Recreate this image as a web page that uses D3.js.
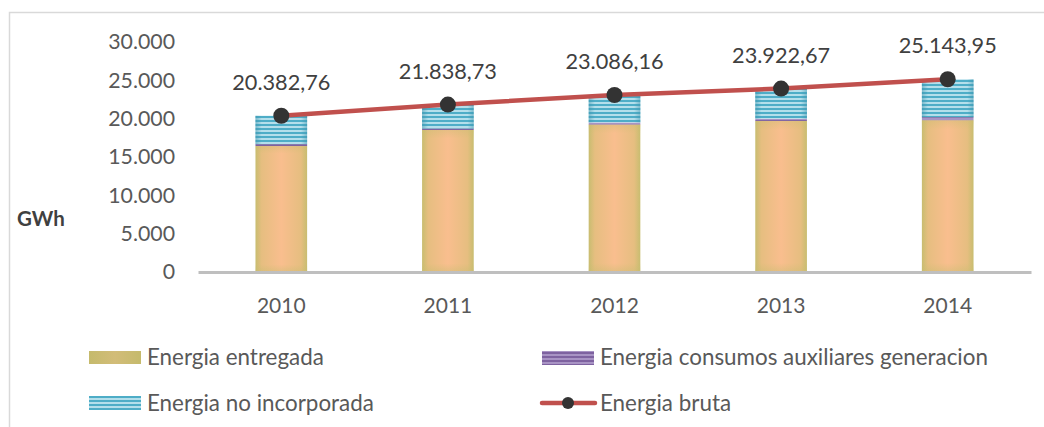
<!DOCTYPE html>
<html><head><meta charset="utf-8">
<script src="https://cdn.jsdelivr.net/npm/d3@7"></script>
<style>body{margin:0;background:#fff} svg{display:block;font-family:Lato,"Open Sans",sans-serif}</style>
</head><body>
<svg id="c" width="1044" height="427"></svg>
<script>
const years = ["2010", "2011", "2012", "2013", "2014"];
const entregada = [16430, 18520, 19240, 19700, 19800];
const auxiliares = [250, 200, 260, 300, 400];
const noIncorporada = [3700, 3120, 3590, 3920, 4940];
const bruta = [20382.76, 21838.73, 23086.16, 23922.67, 25143.95];
const tickValues = [0, 5000, 10000, 15000, 20000, 25000, 30000];
const tickLabels = ["0", "5.000", "10.000", "15.000", "20.000", "25.000", "30.000"];
const seriesNames = ["Energia entregada", "Energia consumos auxiliares generacion", "Energia no incorporada", "Energia bruta"];

const loc = d3.formatLocale({decimal: ",", thousands: ".", grouping: [3], currency: ["", ""]});
const fmt = loc.format(",.2f");

const svg = d3.select("#c");
const defs = svg.append("defs");

const g1 = defs.append("linearGradient").attr("id", "gEnt").attr("x1", 0).attr("x2", 1).attr("y1", 0).attr("y2", 0);
[[0, "#C8BD70"], [0.12, "#E6BE80"], [0.5, "#F9BE8E"], [0.88, "#E6BE80"], [1, "#C8BD70"]].forEach(s =>
  g1.append("stop").attr("offset", s[0]).attr("stop-color", s[1]));
const g1v = defs.append("linearGradient").attr("id", "gEntV").attr("x1", 0).attr("x2", 0).attr("y1", 0).attr("y2", 1);
[[0, "#C8BD70", 0.35], [0.06, "#C8BD70", 0], [0.94, "#C8BD70", 0], [1, "#C8BD70", 0.45]].forEach(s =>
  g1v.append("stop").attr("offset", s[0]).attr("stop-color", s[1]).attr("stop-opacity", s[2]));
const gl = defs.append("linearGradient").attr("id", "gEntL").attr("x1", 0).attr("x2", 1).attr("y1", 0).attr("y2", 0);
[[0, "#C5BA6C"], [0.5, "#D2BC78"], [1, "#C5BA6C"]].forEach(s =>
  gl.append("stop").attr("offset", s[0]).attr("stop-color", s[1]));

function stripes(id, dark, light) {
  const p = defs.append("pattern").attr("id", id).attr("patternUnits", "userSpaceOnUse")
    .attr("width", 8).attr("height", 4);
  p.append("rect").attr("width", 8).attr("height", 4).attr("fill", light);
  p.append("rect").attr("width", 8).attr("height", 2).attr("fill", dark);
}
stripes("pBlue", "#4EADC7", "#B4DFEB");
stripes("pPurp", "#7E62A0", "#A893C4");
const ge = defs.append("linearGradient").attr("id", "gEdge").attr("x1", 0).attr("x2", 1).attr("y1", 0).attr("y2", 0);
[[0, "#3C93AC", 0.5], [0.12, "#3C93AC", 0], [0.88, "#3C93AC", 0], [1, "#3C93AC", 0.5]].forEach(s =>
  ge.append("stop").attr("offset", s[0]).attr("stop-color", s[1]).attr("stop-opacity", s[2]));

svg.append("rect").attr("x", 9.5).attr("y", 12.5).attr("width", 1200).attr("height", 600)
  .attr("fill", "none").attr("stroke", "#D9D9D9").attr("stroke-width", 1.5);

const x = d3.scaleBand().domain(years).range([198, 1031]).padding(0);
const y = d3.scaleLinear().domain([0, 30000]).range([272, 42]);
const bw = x.bandwidth() * 0.31;

const ya = svg.append("g").attr("transform", "translate(198,0)")
  .call(d3.axisLeft(y).tickValues(tickValues).tickFormat((d, i) => tickLabels[i]).tickSize(0).tickPadding(23));
ya.select(".domain").remove();
ya.selectAll("text").attr("font-size", 21.3).attr("fill", "#595959").attr("font-family", "Lato");

svg.append("text").attr("x", 17).attr("y", 219).attr("dy", "0.35em").text("GWh")
  .attr("font-size", 20.5).attr("font-weight", "bold").attr("fill", "#404040");

const bars = svg.append("g");
years.forEach((yr, i) => {
  const x0 = x(yr) + (x.bandwidth() - bw) / 2;
  const e1 = entregada[i];
  const a1 = e1 + auxiliares[i];
  const n1 = a1 + noIncorporada[i];
  bars.append("rect").attr("x", x0).attr("width", bw).attr("y", y(e1)).attr("height", y(0) - y(e1)).attr("fill", "url(#gEnt)");
  bars.append("rect").attr("x", x0).attr("width", bw).attr("y", y(e1)).attr("height", y(0) - y(e1)).attr("fill", "url(#gEntV)");
  bars.append("rect").attr("x", x0).attr("width", bw).attr("y", y(a1)).attr("height", y(e1) - y(a1)).attr("fill", "url(#pPurp)");
  bars.append("rect").attr("x", x0).attr("width", bw).attr("y", y(n1)).attr("height", y(a1) - y(n1)).attr("fill", "url(#pBlue)");
  bars.append("rect").attr("x", x0).attr("width", bw).attr("y", y(n1)).attr("height", y(a1) - y(n1)).attr("fill", "url(#gEdge)");
});

const xa = svg.append("g").attr("transform", "translate(0,272)")
  .call(d3.axisBottom(x).tickSize(0).tickSizeOuter(0).tickPadding(26));
xa.select(".domain").attr("stroke", "#BFBFBF").attr("stroke-width", 3);
xa.selectAll("text").attr("font-size", 21).attr("fill", "#595959").attr("font-family", "Lato");

const cx = d => x(d) + x.bandwidth() / 2;
svg.append("path").datum(bruta)
  .attr("d", d3.line().x((d, i) => cx(years[i])).y(d => y(d)))
  .attr("fill", "none").attr("stroke", "#C0504D").attr("stroke-width", 4.5).attr("stroke-linecap", "round");
svg.append("g").selectAll("circle").data(bruta).join("circle")
  .attr("cx", (d, i) => cx(years[i])).attr("cy", d => y(d)).attr("r", 8).attr("fill", "#333333");
svg.append("g").selectAll("text").data(bruta).join("text")
  .attr("x", (d, i) => cx(years[i])).attr("y", d => y(d) - 26)
  .attr("text-anchor", "middle").attr("font-size", 21.7).attr("fill", "#404040").text(d => fmt(d));

const lg = svg.append("g").attr("font-size", 22.4).attr("fill", "#595959");
function legText(xp, yp, t) { lg.append("text").attr("x", xp).attr("y", yp).attr("dy", "0.35em").text(t); }
lg.append("rect").attr("x", 89).attr("y", 351).attr("width", 52).attr("height", 13).attr("fill", "url(#gEntL)");
legText(147, 357.5, seriesNames[0]);
lg.append("rect").attr("x", 542).attr("y", 351).attr("width", 52).attr("height", 14).attr("fill", "url(#pPurp)");
legText(600, 357.5, seriesNames[1]);
lg.append("rect").attr("x", 89).attr("y", 396).attr("width", 52).attr("height", 14).attr("fill", "url(#pBlue)");
legText(147, 403, seriesNames[2]);
lg.append("line").attr("x1", 542).attr("x2", 595).attr("y1", 403).attr("y2", 403)
  .attr("stroke", "#C0504D").attr("stroke-width", 4.5).attr("stroke-linecap", "round");
lg.append("circle").attr("cx", 568).attr("cy", 403).attr("r", 6).attr("fill", "#333333");
legText(600, 403, seriesNames[3]);
</script>
</body></html>
